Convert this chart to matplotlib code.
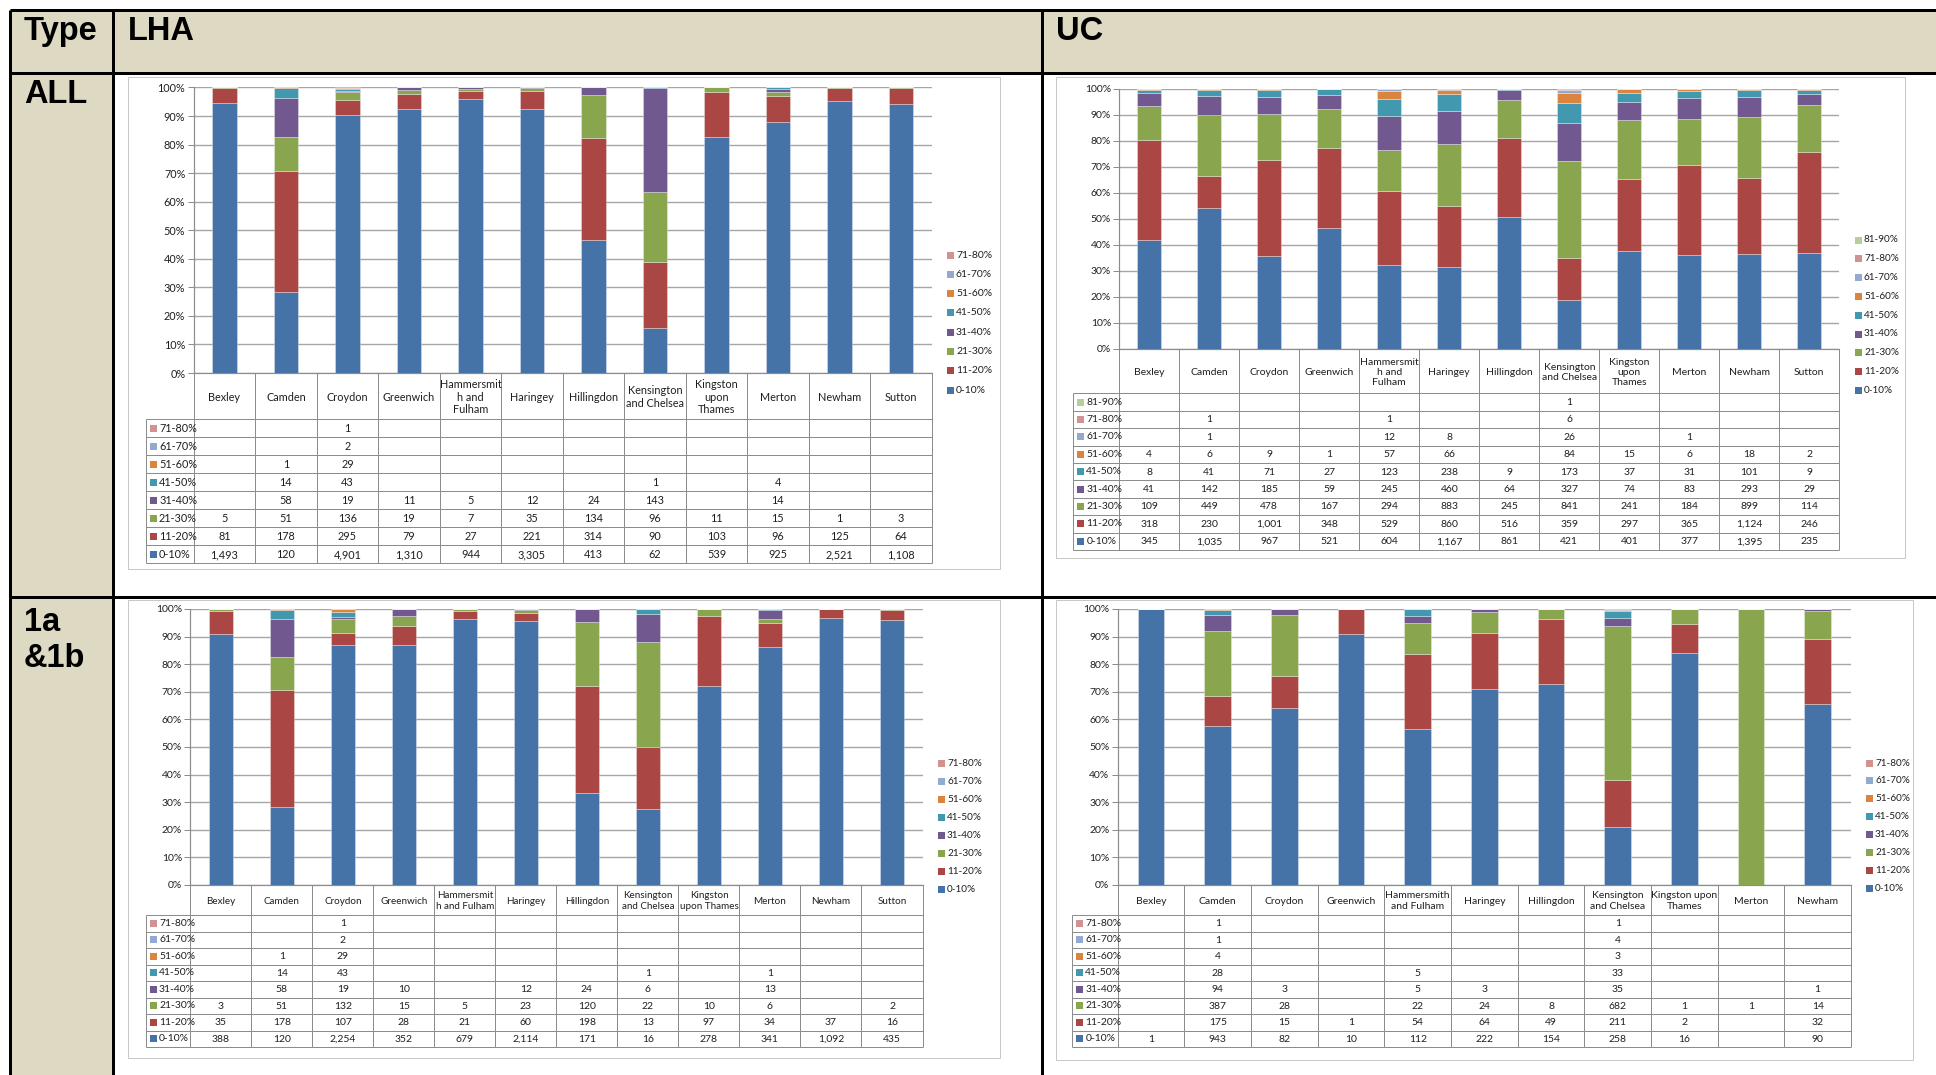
import matplotlib
matplotlib.use('Agg')
import matplotlib.pyplot as plt
from matplotlib.patches import Rectangle
import numpy as np

plt.rcParams['font.family'] = ['Lato', 'DejaVu Sans']

W, H, DPI = 1936, 1075, 100

# ---------------- data ----------------
bands_lha = ['0-10%', '11-20%', '21-30%', '31-40%', '41-50%', '51-60%', '61-70%', '71-80%']
bands_uc = bands_lha + ['81-90%']
band_colors = {
    '0-10%': '#4572A7', '11-20%': '#AA4643', '21-30%': '#89A54E', '31-40%': '#71588F',
    '41-50%': '#4198AF', '51-60%': '#DB843D', '61-70%': '#93A9CF', '71-80%': '#D19392',
    '81-90%': '#B9CD96',
}

labels_lha_all = ['Bexley', 'Camden', 'Croydon', 'Greenwich', 'Hammersmit\nh and\nFulham', 'Haringey',
                  'Hillingdon', 'Kensington\nand Chelsea', 'Kingston\nupon\nThames', 'Merton', 'Newham', 'Sutton']
labels_uc_all = labels_lha_all
labels_lha_1a = ['Bexley', 'Camden', 'Croydon', 'Greenwich', 'Hammersmit\nh and Fulham', 'Haringey',
                 'Hillingdon', 'Kensington\nand Chelsea', 'Kingston\nupon Thames', 'Merton', 'Newham', 'Sutton']
labels_uc_1a = ['Bexley', 'Camden', 'Croydon', 'Greenwich', 'Hammersmith\nand Fulham', 'Haringey',
                'Hillingdon', 'Kensington\nand Chelsea', 'Kingston upon\nThames', 'Merton', 'Newham']

N = None
lha_all = {
    '0-10%':  [1493, 120, 4901, 1310, 944, 3305, 413, 62, 539, 925, 2521, 1108],
    '11-20%': [81, 178, 295, 79, 27, 221, 314, 90, 103, 96, 125, 64],
    '21-30%': [5, 51, 136, 19, 7, 35, 134, 96, 11, 15, 1, 3],
    '31-40%': [N, 58, 19, 11, 5, 12, 24, 143, N, 14, N, N],
    '41-50%': [N, 14, 43, N, N, N, N, 1, N, 4, N, N],
    '51-60%': [N, 1, 29, N, N, N, N, N, N, N, N, N],
    '61-70%': [N, N, 2, N, N, N, N, N, N, N, N, N],
    '71-80%': [N, N, 1, N, N, N, N, N, N, N, N, N],
}
uc_all = {
    '0-10%':  [345, 1035, 967, 521, 604, 1167, 861, 421, 401, 377, 1395, 235],
    '11-20%': [318, 230, 1001, 348, 529, 860, 516, 359, 297, 365, 1124, 246],
    '21-30%': [109, 449, 478, 167, 294, 883, 245, 841, 241, 184, 899, 114],
    '31-40%': [41, 142, 185, 59, 245, 460, 64, 327, 74, 83, 293, 29],
    '41-50%': [8, 41, 71, 27, 123, 238, 9, 173, 37, 31, 101, 9],
    '51-60%': [4, 6, 9, 1, 57, 66, N, 84, 15, 6, 18, 2],
    '61-70%': [N, 1, N, N, 12, 8, N, 26, N, 1, N, N],
    '71-80%': [N, 1, N, N, 1, N, N, 6, N, N, N, N],
    '81-90%': [N, N, N, N, N, N, N, 1, N, N, N, N],
}
lha_1a = {
    '0-10%':  [388, 120, 2254, 352, 679, 2114, 171, 16, 278, 341, 1092, 435],
    '11-20%': [35, 178, 107, 28, 21, 60, 198, 13, 97, 34, 37, 16],
    '21-30%': [3, 51, 132, 15, 5, 23, 120, 22, 10, 6, N, 2],
    '31-40%': [N, 58, 19, 10, N, 12, 24, 6, N, 13, N, N],
    '41-50%': [N, 14, 43, N, N, N, N, 1, N, 1, N, N],
    '51-60%': [N, 1, 29, N, N, N, N, N, N, N, N, N],
    '61-70%': [N, N, 2, N, N, N, N, N, N, N, N, N],
    '71-80%': [N, N, 1, N, N, N, N, N, N, N, N, N],
}
uc_1a = {
    '0-10%':  [1, 943, 82, 10, 112, 222, 154, 258, 16, N, 90],
    '11-20%': [N, 175, 15, 1, 54, 64, 49, 211, 2, N, 32],
    '21-30%': [N, 387, 28, N, 22, 24, 8, 682, 1, 1, 14],
    '31-40%': [N, 94, 3, N, 5, 3, N, 35, N, N, 1],
    '41-50%': [N, 28, N, N, 5, N, N, 33, N, N, N],
    '51-60%': [N, 4, N, N, N, N, N, 3, N, N, N],
    '61-70%': [N, 1, N, N, N, N, N, 4, N, N, N],
    '71-80%': [N, 1, N, N, N, N, N, 1, N, N, N],
}

# ---------------- layout (pixels) ----------------
BEIGE = '#DDD9C3'
GRID = '#A6A6A6'
TLINE = '#8C8C8C'
TXT = '#1F1F1F'

fig = plt.figure(figsize=(W / DPI, H / DPI), dpi=DPI)
bg = fig.add_axes([0, 0, 1, 1])
bg.set_xlim(0, W)
bg.set_ylim(H, 0)
bg.axis('off')

def px(lw):
    return lw * 0.72

# table background
bg.add_patch(Rectangle((10, 10), W - 10, 63, fc=BEIGE, ec='none', zorder=0))
bg.add_patch(Rectangle((10, 73), 103, H - 73, fc=BEIGE, ec='none', zorder=0))
for (xa, ya, xb, yb) in [(10, 10, W, 10), (10, 73, W, 73), (10, 597, W, 597),
                         (10, 10, 10, H), (113, 10, 113, H), (1042, 10, 1042, H)]:
    bg.plot([xa, xb], [ya, yb], color='black', lw=px(3), zorder=5, solid_capstyle='butt')

hdr = dict(family=['Liberation Sans', 'DejaVu Sans'], fontweight='bold', fontsize=23.5,
           color='black', va='baseline', ha='left', zorder=6)
bg.text(24, 40, 'Type', **hdr)
bg.text(128, 40, 'LHA', **hdr)
bg.text(1056, 40, 'UC', **hdr)
bg.text(24, 103, 'ALL', **hdr)
bg.text(24, 631, '1a', **hdr)
bg.text(24, 667, '&1b', **hdr)


def fmt(v):
    return '' if v is None else f'{v:,}'


def panel(spec):
    fx0, fy0, fx1, fy1 = spec['frame']
    bg.add_patch(Rectangle((fx0, fy0), fx1 - fx0, fy1 - fy0, fc='white', ec='#C8C8C8',
                           lw=px(1), zorder=1))
    x0, x1, yt, yb = spec['plot']
    cats = spec['cats']
    n = len(cats)
    bands = spec['bands']
    counts = spec['counts']
    fs = spec['fs']
    cfs = spec.get('cat_fs', fs)

    ax = fig.add_axes([x0 / W, 1 - yb / H, (x1 - x0) / W, (yb - yt) / H])
    ax.set_facecolor('none')
    mat = np.array([[0 if v is None else v for v in counts[b]] for b in bands], dtype=float)
    pct = mat / mat.sum(axis=0) * 100
    bottom = np.zeros(n)
    xs = np.arange(n)
    for i, b in enumerate(bands):
        ax.bar(xs, pct[i], 0.4, bottom=bottom, color=band_colors[b],
               edgecolor=(1, 1, 1, 0.45), linewidth=0.5, zorder=3)
        bottom += pct[i]
    ax.set_xlim(-0.5, n - 0.5)
    ax.set_ylim(0, 100)
    ax.set_yticks(range(0, 101, 10))
    ax.set_yticklabels([f'{v}%' for v in range(0, 101, 10)])
    ax.yaxis.grid(True, color=GRID, lw=px(1.4))
    ax.set_axisbelow(True)
    ax.set_xticks([])
    for s in ['top', 'right']:
        ax.spines[s].set_visible(False)
    for s in ['left', 'bottom']:
        ax.spines[s].set_color(TLINE)
        ax.spines[s].set_linewidth(px(1.2))
    ax.tick_params(axis='y', length=4, width=px(1), color=TLINE, labelsize=fs, pad=2,
                   labelcolor=TXT)

    # data table
    colw = (x1 - x0) / n
    cb = spec['cat_bottom']
    tb = spec['table_bottom']
    kl = spec['key_left']
    nr = len(bands)
    rh = (tb - cb) / nr
    lk = dict(color=TLINE, lw=px(1), zorder=3, solid_capstyle='butt')
    for j in range(n + 1):
        xx = x0 + j * colw
        bg.plot([xx, xx], [yb, tb], **lk)
    bg.plot([kl, kl], [cb, tb], **lk)
    for r in range(nr + 1):
        yy = cb + r * rh
        bg.plot([kl, x1], [yy, yy], **lk)
    for j, c in enumerate(cats):
        bg.text(x0 + (j + 0.5) * colw, (yb + cb) / 2 + 1, c, ha='center', va='center',
                fontsize=cfs, color=TXT, linespacing=1.15, zorder=4)
    for r, b in enumerate(reversed(bands)):
        yc = cb + (r + 0.5) * rh
        bg.add_patch(Rectangle((kl + 4, yc - 3.5), 7, 7, fc=band_colors[b], ec='none', zorder=4))
        bg.text(kl + 13, yc, b, ha='left', va='center', fontsize=fs, color=TXT, zorder=4)
        for j, v in enumerate(counts[b]):
            bg.text(x0 + (j + 0.5) * colw, yc + 0.5, fmt(v), ha='center', va='center',
                    fontsize=fs, color=TXT, zorder=4)

    # legend
    lx, ly, lsp = spec['legend']
    for r, b in enumerate(reversed(bands)):
        yc = ly + r * lsp
        bg.add_patch(Rectangle((lx, yc - 3.5), 7, 7, fc=band_colors[b], ec='none', zorder=4))
        bg.text(lx + 9, yc, b, ha='left', va='center', fontsize=fs - 0.3, color=TXT, zorder=4)


panel(dict(frame=(128, 77, 1000, 569), plot=(193.7, 931.7, 87.5, 373), cats=labels_lha_all,
           bands=bands_lha, counts=lha_all, cat_bottom=419.3, table_bottom=563, key_left=146,
           legend=(947, 255, 19.3), fs=7.8))
panel(dict(frame=(1056, 77, 1905, 558), plot=(1119.3, 1839.3, 89, 349), cats=labels_uc_all,
           bands=bands_uc, counts=uc_all, cat_bottom=393.3, table_bottom=550, key_left=1073.3,
           legend=(1855, 240, 18.8), fs=7.5))
panel(dict(frame=(128, 600, 1000, 1058), plot=(190.3, 922.5, 609, 885), cats=labels_lha_1a,
           bands=bands_lha, counts=lha_1a, cat_bottom=915, table_bottom=1047, key_left=146,
           legend=(938, 763, 18), fs=7.5, cat_fs=7.1))
panel(dict(frame=(1056, 600, 1913, 1060), plot=(1117.7, 1851, 609, 885), cats=labels_uc_1a,
           bands=bands_lha, counts=uc_1a, cat_bottom=915, table_bottom=1047, key_left=1072.3,
           legend=(1866, 763, 17.9), fs=7.5))

fig.savefig('out.png', dpi=DPI)
